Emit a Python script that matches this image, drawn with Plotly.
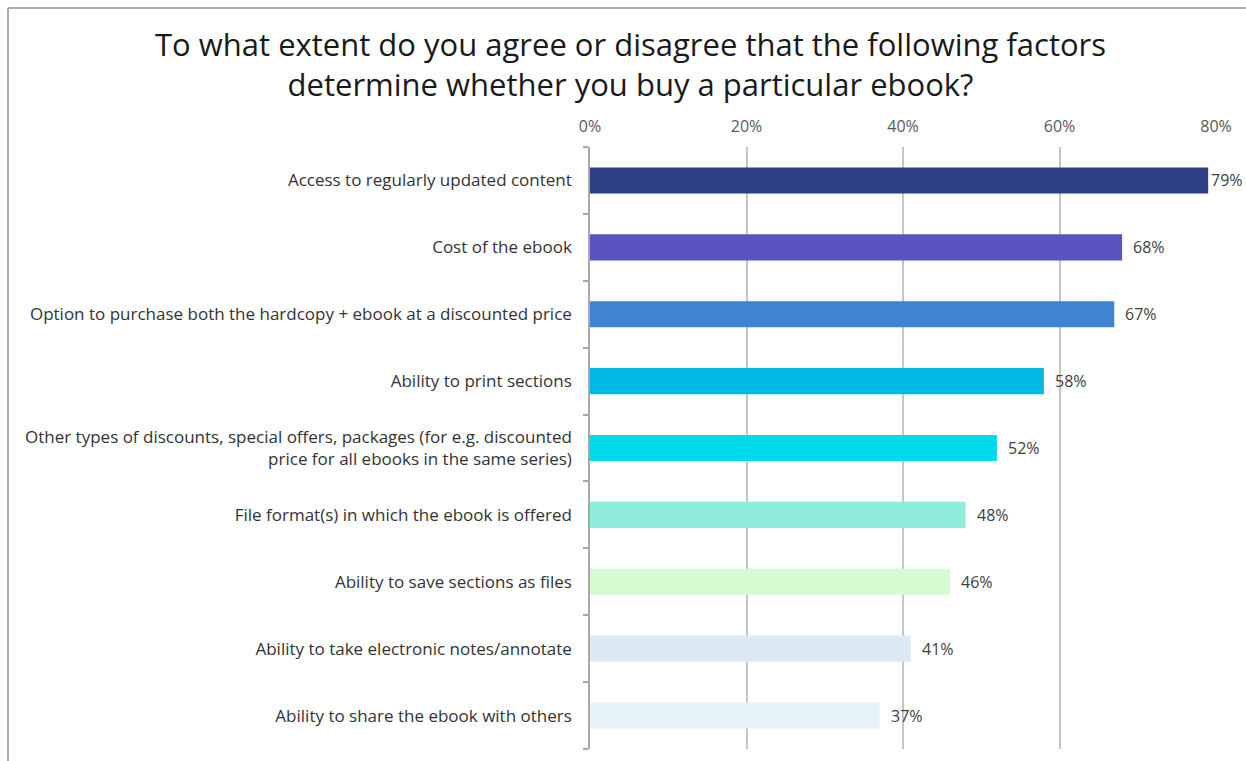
import plotly.graph_objects as go

# Survey factors (top to bottom) and share agreeing, in percent
factors = [
    "Access to regularly updated content",
    "Cost of the ebook",
    "Option to purchase both the hardcopy + ebook at a discounted price",
    "Ability to print sections",
    "Other types of discounts, special offers, packages (for e.g. discounted<br>price for all ebooks in the same series)",
    "File format(s) in which the ebook is offered",
    "Ability to save sections as files",
    "Ability to take electronic notes/annotate",
    "Ability to share the ebook with others",
]
agree_pct = [79, 68, 67, 58, 52, 48, 46, 41, 37]
bar_colors = [
    "#2E3F84", "#5B53BF", "#3F84D1", "#00B9E3", "#00D9E8",
    "#8EEEDB", "#D6FBD3", "#DCEAF3", "#E6F2F9",
]
x_ticks = [0, 20, 40, 60, 80]
x_tick_labels = ["0%", "20%", "40%", "60%", "80%"]
title_text = ("To what extent do you agree or disagree that the following factors"
              "<br>determine whether you buy a particular ebook?")

W, H = 1246, 761
ML, MR, MT, MB = 590, 30, 147, 12
pw, ph = W - ML - MR, H - MT - MB


def px_x(p):
    return (p - ML) / pw


def px_y(p):
    return (H - MB - p) / ph


fig = go.Figure()
fig.add_trace(go.Bar(
    y=factors,
    x=agree_pct,
    orientation="h",
    marker=dict(color=bar_colors, line=dict(width=0)),
    width=0.39,
    hoverinfo="skip",
))

# value labels to the right of each bar (the longest one sits tight to the edge)
for f, v in zip(factors, agree_pct):
    fig.add_annotation(
        x=v, y=f, text=f"{v}%", showarrow=False,
        xanchor="left", xshift=1 if v == max(agree_pct) else 9,
        font=dict(family="Open Sans", size=16, color="#404040"),
    )

# two-line title
fig.add_annotation(
    x=px_x(630), y=px_y(64), xref="paper", yref="paper",
    text=title_text, showarrow=False, xanchor="center", yanchor="middle",
    align="center",
    font=dict(family="Open Sans", size=31, color="#1a1a1a"),
)

# frame lines along the left and top of the chart area
frame = dict(color="#ababab", width=2)
fig.add_shape(type="line", xref="paper", yref="paper",
              x0=px_x(8), x1=px_x(W + 5), y0=px_y(8), y1=px_y(8), line=frame)
fig.add_shape(type="line", xref="paper", yref="paper",
              x0=px_x(8), x1=px_x(8), y0=px_y(8), y1=px_y(H + 5), line=frame)

fig.update_layout(
    width=W, height=H,
    margin=dict(l=ML, r=MR, t=MT, b=MB),
    paper_bgcolor="white", plot_bgcolor="white",
    showlegend=False,
    bargap=0.6,
    xaxis=dict(
        side="top", range=[0, 80],
        tickvals=x_ticks, ticktext=x_tick_labels,
        showgrid=True, gridcolor="#c6c6c6", gridwidth=1.5,
        zeroline=False, showline=False, ticks="",
        ticklabelstandoff=11,
        tickfont=dict(family="Open Sans", size=16, color="#595959"),
        fixedrange=True,
    ),
    yaxis=dict(
        categoryorder="array", categoryarray=factors[::-1],
        autorange=True,
        showline=True, linecolor="#a9a9a9", linewidth=1.5,
        ticks="outside", tickson="boundaries", ticklen=5,
        tickcolor="#a9a9a9", tickwidth=1.5,
        ticklabelstandoff=13,
        tickfont=dict(family="Open Sans", size=17, color="#333333"),
        showgrid=False, fixedrange=True,
    ),
)

fig.write_html("out.html")
